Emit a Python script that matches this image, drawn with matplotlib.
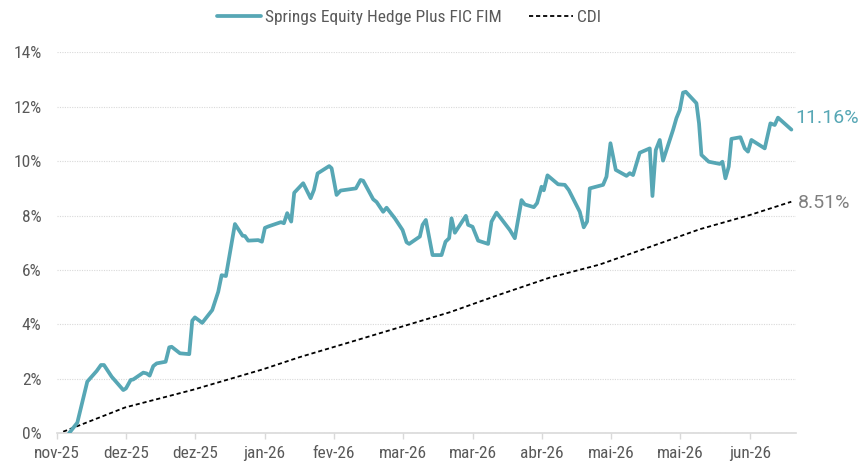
import matplotlib
matplotlib.use("Agg")
import matplotlib.pyplot as plt
from matplotlib.ticker import FuncFormatter, MultipleLocator

# ---- data (x = business-day index, y = cumulative return in %) ----
fund_x = [2.66, 4.46, 6.62, 8.65, 9.58, 10.23, 11.90, 14.41, 14.99, 16.01, 16.57, 18.74, 19.47,
          20.12, 20.90, 21.64, 23.58, 24.36, 24.88, 26.68, 28.69, 29.34, 29.92, 31.50, 33.67,
          34.96, 35.70, 36.63, 38.58, 39.51, 40.24, 40.74, 41.45, 43.62, 44.42, 45.07, 45.78,
          48.53, 49.18, 49.89, 50.76, 51.41, 53.35, 54.96, 55.67, 56.47, 58.98, 59.50, 60.58,
          61.45, 64.76, 65.77, 66.34, 68.50, 69.24, 70.66, 71.40, 73.19, 74.86, 75.73, 76.29,
          78.60, 79.19, 79.90, 81.35, 83.30, 84.16, 84.94, 85.46, 86.18, 88.56, 89.05, 90.01,
          91.22, 93.38, 94.12, 95.20, 98.08, 99.16, 100.61, 101.32, 103.27, 103.98, 104.94,
          105.43, 106.23, 108.53, 109.98, 110.84, 113.22, 114.08, 114.80, 115.38, 118.26,
          119.00, 119.86, 121.01, 123.33, 124.04, 124.75, 126.20, 128.37, 128.95, 129.67,
          130.53, 131.24, 133.41, 134.14, 134.86, 135.57, 136.16, 138.47, 139.03, 139.55,
          141.13, 143.51, 144.10, 144.74, 145.46, 146.04, 147.99, 148.92, 149.63, 150.37,
          153.25, 154.48, 155.41, 156.12, 159.02]
fund_y = [0.00, 0.39, 1.90, 2.29, 2.51, 2.51, 2.08, 1.59, 1.65, 1.96, 1.98, 2.23, 2.20,
          2.12, 2.47, 2.57, 2.63, 3.16, 3.18, 2.94, 2.91, 4.14, 4.26, 4.06, 4.53,
          5.20, 5.81, 5.78, 7.69, 7.45, 7.26, 7.25, 7.08, 7.10, 7.04, 7.55, 7.60,
          7.76, 7.72, 8.09, 7.78, 8.84, 9.19, 8.64, 8.94, 9.55, 9.82, 9.74, 8.76,
          8.92, 9.00, 9.31, 9.28, 8.60, 8.50, 8.14, 8.29, 7.90, 7.47, 7.02, 6.96,
          7.23, 7.66, 7.84, 6.55, 6.55, 7.04, 7.17, 7.90, 7.37, 7.99, 7.66, 7.59,
          7.08, 6.96, 7.78, 8.11, 7.47, 7.17, 8.57, 8.41, 8.31, 8.46, 9.06,
          8.93, 9.48, 9.15, 9.13, 8.94, 8.14, 7.57, 7.78, 9.00, 9.13,
          9.43, 10.66, 9.68, 9.46, 9.56, 9.49, 10.31, 10.47, 8.72, 10.41,
          10.78, 10.02, 11.15, 11.58, 11.88, 12.52, 12.55, 12.13, 11.39, 10.23,
          9.98, 9.90, 9.98, 9.37, 9.80, 10.82, 10.88, 10.47, 10.35, 10.78,
          10.47, 11.39, 11.33, 11.60, 11.16]

cdi_x = [1.4, 14.8, 29.5, 44.6, 52.6, 63.5, 74.3, 85.1, 95.9, 106.7, 117.5, 128.4, 139.2, 150.0, 159.0]
cdi_y = [0.06, 0.95, 1.60, 2.35, 2.80, 3.35, 3.90, 4.45, 5.10, 5.72, 6.20, 6.85, 7.50, 8.02, 8.51]

tick_pos = [0, 15, 30, 45, 60, 75, 90, 105, 120, 135, 150]
tick_labels = ["nov-25", "dez-25", "dez-25", "jan-26", "fev-26", "mar-26",
               "mar-26", "abr-26", "mai-26", "mai-26", "jun-26"]

fund_name = "Springs Equity Hedge Plus FIC FIM"
cdi_name = "CDI"
fund_last = "11.16%"
cdi_last = "8.51%"

TEAL = "#57A7B5"
GRAY_TXT = "#595959"
GRID = "#D9D9D9"
NARROW = ["Roboto Condensed", "DejaVu Sans"]
REGULAR = ["Roboto", "DejaVu Sans"]

plt.rcParams["font.family"] = NARROW

fig = plt.figure(figsize=(8.67, 4.63), dpi=100)
ax = fig.add_axes([0.0654, 0.0641, 0.918 - 0.0654, 0.887 - 0.0641])

ax.plot(fund_x, fund_y, color=TEAL, lw=2.7, solid_joinstyle="round",
        solid_capstyle="round", label=fund_name, zorder=3)
ax.plot(cdi_x, cdi_y, color="black", lw=1.3, dashes=(2.3, 1.6), label=cdi_name, zorder=2)

ax.set_xlim(0, 160)
ax.set_ylim(0, 14)
ax.yaxis.set_major_locator(MultipleLocator(2))
ax.yaxis.set_major_formatter(FuncFormatter(lambda v, p: f"{v:.0f}%"))
ax.set_xticks(tick_pos)
ax.set_xticklabels(tick_labels)

ax.grid(axis="y", color=GRID, lw=0.8, ls=(0, (1, 1.2)))
ax.set_axisbelow(True)
for s in ["top", "right", "left"]:
    ax.spines[s].set_visible(False)
ax.spines["bottom"].set_color(GRID)
ax.spines["bottom"].set_linewidth(1.2)
ax.tick_params(axis="y", length=0, pad=11, labelsize=12.5, labelcolor=GRAY_TXT)
ax.tick_params(axis="x", length=4, width=1, color=GRID, direction="out", pad=5,
               labelsize=12.5, labelcolor=GRAY_TXT)

ax.annotate(fund_last, xy=(fund_x[-1], fund_y[-1]), xytext=(2.5, 8.5),
            textcoords="offset points", color=TEAL, fontsize=14,
            family=REGULAR, va="center", ha="left", annotation_clip=False)
ax.annotate(cdi_last, xy=(cdi_x[-1], cdi_y[-1]), xytext=(4.5, -1),
            textcoords="offset points", color="#808080", fontsize=14,
            family=REGULAR, va="center", ha="left", annotation_clip=False)

leg = fig.legend(loc="center", bbox_to_anchor=(0.472, 0.963), ncol=2, frameon=False,
                 fontsize=12.5, handlelength=2.5, handletextpad=0.25, columnspacing=1.6)
for t in leg.get_texts():
    t.set_color(GRAY_TXT)

fig.savefig("out.png", dpi=100)
